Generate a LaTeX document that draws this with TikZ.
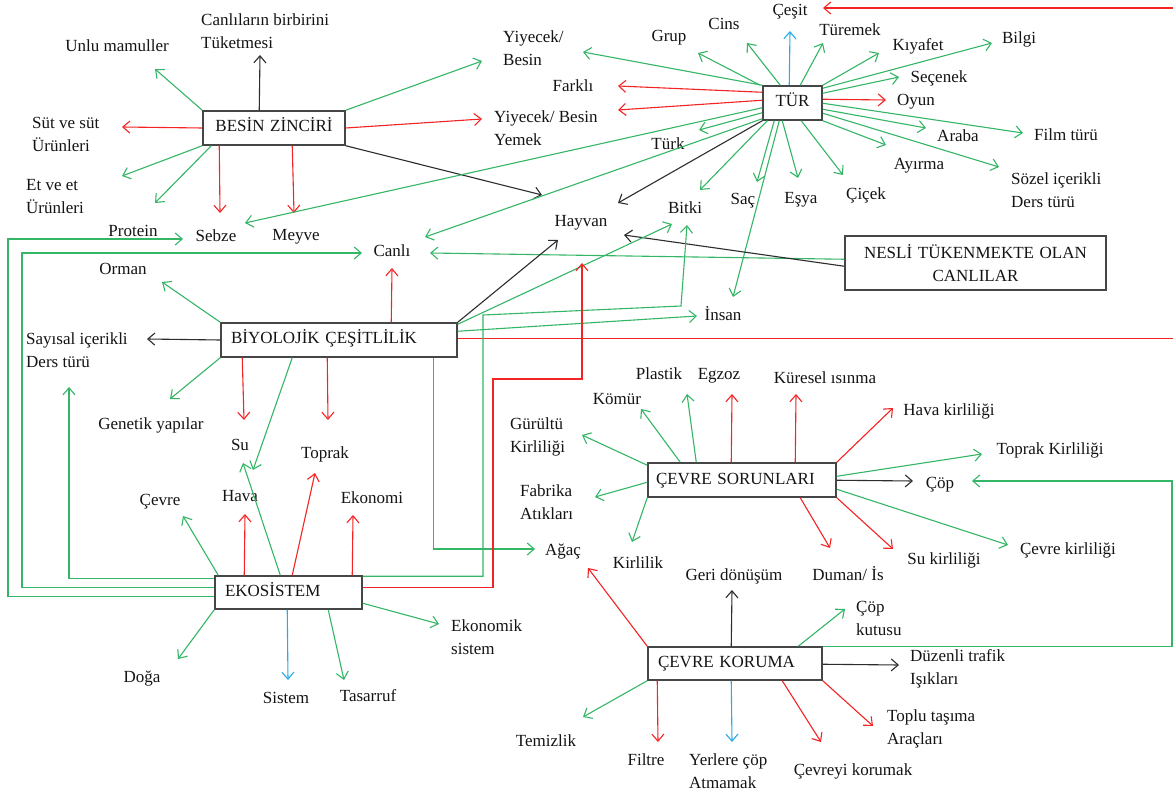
\documentclass[tikz,border=0pt]{standalone}
\usepackage{fontspec}
\setmainfont{Liberation Serif}
\usetikzlibrary{arrows.meta,calc}
\definecolor{lgreen}{RGB}{52,182,102}
\definecolor{lred}{RGB}{244,36,36}
\definecolor{lblue}{RGB}{40,172,230}
\definecolor{lblack}{RGB}{45,45,45}
\definecolor{boxgray}{RGB}{70,70,70}
\begin{document}
\begin{tikzpicture}[x=1pt,y=-1pt,
  every node/.style={font=\fontsize{17}{23}\selectfont, text=black!92},
  lbl/.style={inner sep=0pt, text height=14pt, text depth=0pt},
  lblm/.style={inner sep=0pt, align=left, anchor=west},
  box/.style={draw=boxgray, line width=1.5pt, fill=white, minimum height=34pt,
    inner xsep=10pt, inner ysep=0pt, text height=12pt, text depth=4pt},
  conn/.style={line width=1.1pt, -{Straight Barb[length=7pt,width=12pt]}},
  gline/.style={conn, draw=lgreen},
  rline/.style={conn, draw=lred},
  bline/.style={conn, draw=lblue},
  kline/.style={conn, draw=lblack}]
\fill[white] (0,0) rectangle (1173,791);
\useasboundingbox (0,0) rectangle (1173,791);

% ---------- boxes ----------
\node[box, minimum width=142pt, text width=122pt, align=center] (besin) at (274,128) {BESİN ZİNCİRİ};
\node[box, minimum width=59pt, text width=39pt, align=center] (tur) at (792.5,103) {TÜR};
\node[box, minimum width=261pt, minimum height=54pt, text width=241pt, align=center,
      text height=, text depth=] (nesli) at (975.5,263) {NESLİ TÜKENMEKTE OLAN\\CANLILAR};
\node[box, minimum width=236pt, text width=216pt, align=left] (biyo) at (339,340) {BİYOLOJİK ÇEŞİTLİLİK};
\node[box, minimum width=147pt, minimum height=33pt, text width=127pt, align=left] (eko) at (288.5,592.5) {EKOSİSTEM};
\node[box, minimum width=188pt, text width=172pt, inner xsep=8pt, align=left] (cs) at (742,480) {ÇEVRE SORUNLARI};
\node[box, minimum width=174pt, minimum height=33pt, text width=154pt, align=left] (ck) at (735,663.5) {ÇEVRE KORUMA};

% ---------- labels ----------
\node[lblm] (tuketme) at (201,31) {Canlıların birbirini\\Tüketmesi};
\node[lbl] (unlu) at (117,45) {Unlu mamuller};
\node[lblm] (sut) at (32,134.5) {Süt ve süt\\Ürünleri};
\node[lblm] (et) at (26,196.5) {Et ve et\\Ürünleri};
\node[lbl] (protein) at (133,230) {Protein};
\node[lbl] (sebze) at (216,235) {Sebze};
\node[lbl] (meyve) at (296,234) {Meyve};
\node[lbl] (canli) at (392,250) {Canlı};
\node[lbl] (orman) at (123,268) {Orman};
\node[lblm] (sayisal) at (26,350.5) {Sayısal içerikli\\Ders türü};
\node[lbl] (genetik) at (151,423) {Genetik yapılar};
\node[lbl] (su) at (240,443) {Su};
\node[lbl] (toprak) at (325,451) {Toprak};
\node[lbl] (cevre) at (160,498) {Çevre};
\node[lbl] (hava) at (240,494) {Hava};
\node[lbl] (ekonomi) at (372,496) {Ekonomi};
\node[lblm] (ekosis) at (451,637) {Ekonomik\\sistem};
\node[lbl] (doga) at (142,675) {Doğa};
\node[lbl] (sistem) at (286,696) {Sistem};
\node[lbl] (tasarruf) at (368,694) {Tasarruf};

\node[lblm] (yiy1) at (503,48) {Yiyecek/\\Besin};
\node[lbl] (farkli) at (573,85) {Farklı};
\node[lblm] (yiy2) at (494,128.5) {Yiyecek/ Besin\\Yemek};
\node[lbl] (grup) at (669,35) {Grup};
\node[lbl] (cins) at (724,23) {Cins};
\node[lbl] (cesit) at (790,9) {Çeşit};
\node[lbl] (turemek) at (850,29) {Türemek};
\node[lbl] (kiyafet) at (918,44) {Kıyafet};
\node[lbl] (bilgi) at (1019,37) {Bilgi};
\node[lbl] (secenek) at (939,76) {Seçenek};
\node[lbl] (oyun) at (916,99) {Oyun};
\node[lbl] (araba) at (958,135) {Araba};
\node[lbl] (film) at (1066,134) {Film türü};
\node[lbl] (ayirma) at (919,163) {Ayırma};
\node[lblm] (sozel) at (1011,190.5) {Sözel içerikli\\Ders türü};
\node[lbl] (turk) at (668,143) {Türk};
\node[lbl] (sac) at (743,198) {Saç};
\node[lbl] (esya) at (801,197) {Eşya};
\node[lbl] (cicek) at (866,193) {Çiçek};
\node[lbl] (bitki) at (685,207) {Bitki};
\node[lbl] (hayvan) at (581,220) {Hayvan};
\node[lbl] (insan) at (723,314) {İnsan};

\node[lbl] (plastik) at (659,373) {Plastik};
\node[lbl] (egzoz) at (719,373) {Egzoz};
\node[lbl] (kuresel) at (825,377) {Küresel ısınma};
\node[lbl] (komur) at (617,398) {Kömür};
\node[lbl] (havak) at (949,409) {Hava kirliliği};
\node[lblm] (gurultu) at (510,436.5) {Gürültü\\Kirliliği};
\node[lbl] (toprakk) at (1050,447) {Toprak Kirliliği};
\node[lbl] (cop) at (940,482) {Çöp};
\node[lblm] (fabrika) at (520,502.5) {Fabrika\\Atıkları};
\node[lbl] (agac) at (563,548) {Ağaç};
\node[lbl] (kirlilik) at (638,561) {Kirlilik};
\node[lbl] (suk) at (944,557) {Su kirliliği};
\node[lbl] (cevrek) at (1068,547) {Çevre kirliliği};
\node[lbl] (geri) at (734,573) {Geri dönüşüm};
\node[lbl] (duman) at (848,573) {Duman/ İs};
\node[lblm] (copk) at (856,618) {Çöp\\kutusu};
\node[lblm] (duzenli) at (910,669) {Düzenli trafik\\Işıkları};
\node[lblm] (toplu) at (887,729) {Toplu taşıma\\Araçları};
\node[lbl] (temizlik) at (546,739) {Temizlik};
\node[lbl] (filtre) at (646,758) {Filtre};
\node[lblm] (yerlere) at (689,771) {Yerlere çöp\\Atmamak};
\node[lbl] (cevreyi) at (853,768) {Çevreyi korumak};

% ---------- arrow tips ----------
\coordinate (t-tuketme) at (260,55);
\coordinate (t-unlu) at (155,69);
\coordinate (t-sut) at (122,127);
\coordinate (t-et1) at (122,176);
\coordinate (t-et2) at (155,203);
\coordinate (t-sebze1) at (220,213);
\coordinate (t-meyve) at (294,213);
\coordinate (t-yiy1a) at (482,61);
\coordinate (t-yiy2a) at (482,119);
\coordinate (t-hayvan1) at (542,195);

\coordinate (t-yiy1b) at (583,52);
\coordinate (t-grup) at (698,53);
\coordinate (t-cins) at (747,43);
\coordinate (t-cesit1) at (790,31);
\coordinate (t-turemek) at (823,43);
\coordinate (t-kiyafet) at (879,53);
\coordinate (t-bilgi) at (992,43);
\coordinate (t-secenek) at (899,77);
\coordinate (t-oyun) at (886,100);
\coordinate (t-film) at (1023,133);
\coordinate (t-araba) at (926,128);
\coordinate (t-sozel) at (999,167);
\coordinate (t-ayirma) at (886,145);
\coordinate (t-cicek) at (843,175);
\coordinate (t-esya) at (798,178);
\coordinate (t-insan1) at (733,297);
\coordinate (t-sac) at (757,182);
\coordinate (t-bitki1) at (700,190);
\coordinate (t-hayvan2) at (618,203);
\coordinate (t-canli1) at (425,237);
\coordinate (t-sebze2) at (245,223);
\coordinate (t-turk) at (699,130);
\coordinate (t-farkli) at (618,86);
\coordinate (t-yiy2b) at (618,110);

\coordinate (t-canli2) at (430,253);
\coordinate (t-hayvan3) at (624,235);

\coordinate (t-orman) at (162,282);
\coordinate (t-sayisal1) at (147,339);
\coordinate (t-genetik) at (170,399);
\coordinate (t-su1) at (244,420);
\coordinate (t-hava1) at (253,470);
\coordinate (t-toprak1) at (328,420);
\coordinate (t-canli3) at (392,268);
\coordinate (t-hayvan4) at (558,240);
\coordinate (t-bitki2) at (672,224);
\coordinate (t-insan2) at (697,316);
\coordinate (t-cesit2) at (823,8);
\coordinate (t-agac1) at (535,549);

\coordinate (t-cevre) at (183,516);
\coordinate (t-hava2) at (245,514);
\coordinate (t-su2) at (243,463);
\coordinate (t-toprak2) at (315,473);
\coordinate (t-ekonomi) at (353,515);
\coordinate (t-ekosis) at (439,624);
\coordinate (t-tasarruf) at (344,680);
\coordinate (t-sistem) at (288,680);
\coordinate (t-doga) at (178,659);
\coordinate (t-sayisal2) at (69,387);
\coordinate (t-canli4) at (362,253);
\coordinate (t-sebze3) at (183,239);
\coordinate (t-bitki3) at (687,225);
\coordinate (t-hayvan5) at (582,263);

\coordinate (t-gurultu) at (582,435);
\coordinate (t-komur) at (641,409);
\coordinate (t-plastik) at (687,394);
\coordinate (t-egzoz) at (732,394);
\coordinate (t-kuresel) at (796,394);
\coordinate (t-havak) at (893,408);
\coordinate (t-toprakk) at (982,454);
\coordinate (t-cop1) at (913,481);
\coordinate (t-cevrek) at (1008,545);
\coordinate (t-suk) at (893,549);
\coordinate (t-duman) at (830,548);
\coordinate (t-kirlilik) at (632,542);
\coordinate (t-fabrika) at (595,497);

\coordinate (t-agac2) at (588,568);
\coordinate (t-geri) at (732,590);
\coordinate (t-copk) at (845,609);
\coordinate (t-cop2) at (972,481);
\coordinate (t-duzenli) at (899,665);
\coordinate (t-toplu) at (873,726);
\coordinate (t-cevreyi) at (821,742);
\coordinate (t-yerlere) at (732,742);
\coordinate (t-filtre) at (658,742);
\coordinate (t-temizlik) at (583,717);

% bend points of the routed connectors
\coordinate (b-cesit) at (1176,8);
\coordinate (b-canli) at (22,253);
\coordinate (b-sebze) at (8,239);
\coordinate (b-bitki1) at (483,315);
\coordinate (b-bitki2) at (681,306);
\coordinate (b-hayvan) at (493,379);
\coordinate (b-cop) at (1172,481);

% ---------- BESİN ZİNCİRİ ----------
\draw[kline] ($(besin.north west)+(57,0)$) -- (t-tuketme);
\draw[gline] (besin.north west) -- (t-unlu);
\draw[rline] (besin.west) -- (t-sut);
\draw[gline] (besin.south west) -- (t-et1);
\draw[gline] ($(besin.south west)+(9,0)$) -- (t-et2);
\draw[rline] ($(besin.south west)+(17,0)$) -- (t-sebze1);
\draw[rline] ($(besin.south west)+(90,0)$) -- (t-meyve);
\draw[gline] (besin.north east) -- (t-yiy1a);
\draw[rline] (besin.east) -- (t-yiy2a);
\draw[kline] (besin.south east) -- (t-hayvan1);

% ---------- TÜR ----------
\draw[gline] (tur.north west) -- (t-yiy1b);
\draw[gline] ($(tur.north west)+(-2,0)$) -- (t-grup);
\draw[gline] ($(tur.north west)+(18,0)$) -- (t-cins);
\draw[bline] ($(tur.north west)+(27,0)$) -- (t-cesit1);
\draw[gline] ($(tur.north west)+(38,0)$) -- (t-turemek);
\draw[gline] (tur.north east) -- (t-kiyafet);
\draw[gline] ($(tur.north east)+(0,3)$) -- (t-bilgi);
\draw[gline] ($(tur.north east)+(0,8)$) -- (t-secenek);
\draw[rline] ($(tur.north east)+(0,14)$) -- (t-oyun);
\draw[gline] ($(tur.north east)+(0,18)$) -- (t-film);
\draw[gline] ($(tur.north east)+(0,24)$) -- (t-araba);
\draw[gline] ($(tur.north east)+(0,28)$) -- (t-sozel);
\draw[gline] (tur.south east) -- (t-ayirma);
\draw[gline] ($(tur.south west)+(39,0)$) -- (t-cicek);
\draw[gline] ($(tur.south west)+(20,0)$) -- (t-esya);
\draw[gline] ($(tur.south west)+(17,0)$) -- (t-insan1);
\draw[gline] ($(tur.south west)+(12,0)$) -- (t-sac);
\draw[gline] ($(tur.south west)+(5,0)$) -- (t-bitki1);
\draw[kline] (tur.south west) -- (t-hayvan2);
\draw[gline] ($(tur.south west)+(0,-2)$) -- (t-canli1);
\draw[gline] ($(tur.south west)+(0,-13)$) -- (t-sebze2);
\draw[gline] ($(tur.south west)+(0,-8)$) -- (t-turk);
\draw[rline] ($(tur.north west)+(0,7)$) -- (t-farkli);
\draw[rline] ($(tur.north west)+(0,15)$) -- (t-yiy2b);

% ---------- NESLİ TÜKENMEKTE OLAN CANLILAR ----------
\draw[gline] ($(nesli.north west)+(0,24)$) -- (t-canli2);
\draw[kline] ($(nesli.north west)+(0,31)$) -- (t-hayvan3);

% ---------- BİYOLOJİK ÇEŞİTLİLİK ----------
\draw[gline] (biyo.north west) -- (t-orman);
\draw[kline] (biyo.west) -- (t-sayisal1);
\draw[gline] (biyo.south west) -- (t-genetik);
\draw[rline] ($(biyo.south west)+(22,0)$) -- (t-su1);
\draw[gline] ($(biyo.south west)+(72,0)$) -- (t-hava1);
\draw[rline] ($(biyo.south west)+(107,0)$) -- (t-toprak1);
\draw[rline] ($(biyo.north west)+(171,0)$) -- (t-canli3);
\draw[kline] (biyo.north east) -- (t-hayvan4);
\draw[gline] ($(biyo.north east)+(0,2)$) -- (t-bitki2);
\draw[gline] ($(biyo.north east)+(0,9)$) -- (t-insan2);
\draw[rline] ($(biyo.north east)+(0,16)$) -| (b-cesit) -- (t-cesit2);
\draw[gline] ($(biyo.south east)+(-24,0)$) |- (t-agac1);

% ---------- EKOSİSTEM ----------
\draw[gline] ($(eko.north west)+(4,0)$) -- (t-cevre);
\draw[rline] ($(eko.north west)+(30,0)$) -- (t-hava2);
\draw[gline] ($(eko.north west)+(66,0)$) -- (t-su2);
\draw[rline] ($(eko.north west)+(78,0)$) -- (t-toprak2);
\draw[rline] ($(eko.north west)+(138,0)$) -- (t-ekonomi);
\draw[gline] ($(eko.north east)+(0,28)$) -- (t-ekosis);
\draw[gline] ($(eko.south west)+(114,0)$) -- (t-tasarruf);
\draw[bline] ($(eko.south west)+(73,0)$) -- (t-sistem);
\draw[gline] (eko.south west) -- (t-doga);
\draw[gline] ($(eko.north west)+(0,3)$) -| (t-sayisal2);
\draw[gline] ($(eko.north west)+(0,12)$) -| (b-canli) -- (t-canli4);
\draw[gline] ($(eko.north west)+(0,21)$) -| (b-sebze) -- (t-sebze3);
\draw[gline] ($(eko.north east)+(0,1)$) -| (b-bitki1) -- (b-bitki2) -- (t-bitki3);
\draw[rline] ($(eko.north east)+(0,12)$) -| (b-hayvan) -| (t-hayvan5);

% ---------- ÇEVRE SORUNLARI ----------
\draw[gline] ($(cs.north west)+(0,3)$) -- (t-gurultu);
\draw[gline] ($(cs.north west)+(33,0)$) -- (t-komur);
\draw[gline] ($(cs.north west)+(49,0)$) -- (t-plastik);
\draw[rline] ($(cs.north west)+(84,0)$) -- (t-egzoz);
\draw[rline] ($(cs.north west)+(148,0)$) -- (t-kuresel);
\draw[rline] (cs.north east) -- (t-havak);
\draw[gline] ($(cs.north east)+(0,14)$) -- (t-toprakk);
\draw[kline] ($(cs.north east)+(0,18)$) -- (t-cop1);
\draw[gline] ($(cs.north east)+(0,27)$) -- (t-cevrek);
\draw[rline] (cs.south east) -- (t-suk);
\draw[rline] ($(cs.south west)+(153,0)$) -- (t-duman);
\draw[gline] (cs.south west) -- (t-kirlilik);
\draw[gline] ($(cs.north west)+(0,20)$) -- (t-fabrika);

% ---------- ÇEVRE KORUMA ----------
\draw[rline] (ck.north west) -- (t-agac2);
\draw[kline] ($(ck.north west)+(84,0)$) -- (t-geri);
\draw[gline] ($(ck.north west)+(151,0)$) -- (t-copk);
\draw[gline] (ck.north east) -| (b-cop) -- (t-cop2);
\draw[kline] ($(ck.north east)+(0,18)$) -- (t-duzenli);
\draw[rline] (ck.south east) -- (t-toplu);
\draw[rline] ($(ck.south west)+(135,0)$) -- (t-cevreyi);
\draw[bline] ($(ck.south west)+(84,0)$) -- (t-yerlere);
\draw[rline] ($(ck.south west)+(10,0)$) -- (t-filtre);
\draw[gline] (ck.south west) -- (t-temizlik);
\end{tikzpicture}
\end{document}
